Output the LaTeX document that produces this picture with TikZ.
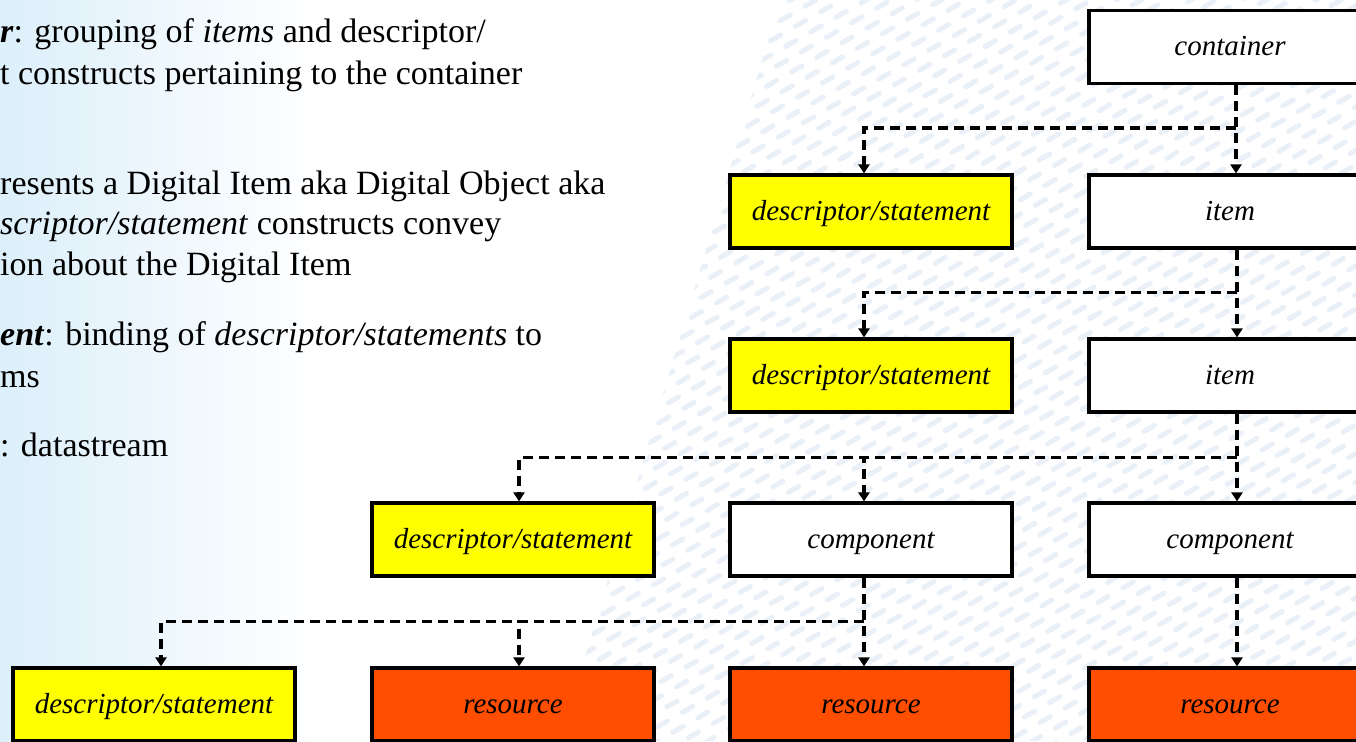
\documentclass[tikz,border=0pt]{standalone}
\usepackage{fontspec}
\setmainfont{Liberation Serif}
\usetikzlibrary{arrows.meta}
\definecolor{dsyellow}{RGB}{255,255,0}
\definecolor{resred}{RGB}{255,78,0}
\definecolor{bgblue}{RGB}{220,239,250}
\definecolor{streakc}{RGB}{234,240,247}
\begin{document}
\begin{tikzpicture}[x=1pt,y=-1pt,
  box/.style={draw=black, line width=3.2pt, minimum width=282pt, minimum height=73pt,
    inner sep=0pt, text height=23pt, text depth=5pt, font=\fontsize{29}{34}\selectfont\itshape},
  desc/.style={box, fill=dsyellow},
  plain/.style={box, fill=white},
  res/.style={box, fill=resred},
  conn/.style={line width=3.3pt, dash pattern=on 10pt off 6pt,
    -{Triangle[width=11pt,length=9pt]}},
  txt/.style={anchor=base west, inner sep=0pt, font=\fontsize{34}{40}\selectfont},
  streak/.style={line width=5pt, color=streakc, line cap=round}]
\useasboundingbox (0,0) rectangle (1356,741);
\clip (0,0) rectangle (1356,741);
% background
\fill[white] (0,0) rectangle (1356,741);
\shade[left color=bgblue, right color=white] (0,0) rectangle (320,741);
\begin{scope}
  \clip (560,741) -- (780,0) -- (1356,0) -- (1356,741) -- cycle;
  \foreach \i [evaluate=\i as \ph using {mod(\i*11,29)}] in {0,...,90} {
    \draw[streak, dash pattern=on 12pt off 17pt, dash phase=\ph pt] ({-700+\i*25}, 760) -- ++(1600,-924);
  }
\end{scope}
% left text
\node[txt] (t1) at (0,42.5) {\textbf{\textit{r}}: grouping of \textit{items} and descriptor/};
\node[txt] (t2) at (0,84.5) {t constructs pertaining to the container};
\node[txt] (t3) at (0,194.5) {resents a Digital Item aka Digital Object aka};
\node[txt] (t4) at (0,234.5) {\textit{scriptor/statement} constructs convey};
\node[txt] (t5) at (0,275.5) {ion about the Digital Item};
\node[txt] (t6) at (0,345.5) {\textbf{\textit{ent}}: binding of \textit{descriptor/statements} to};
\node[txt] (t7) at (0,387.5) {ms};
\node[txt] (t8) at (0,456.5) {: datastream};
% boxes
\node[plain] (c1)  at (1230,47)    {container};
\node[desc]  (d2)  at (871,211.5)  {descriptor/statement};
\node[plain] (i2)  at (1230,211.5) {item};
\node[desc]  (d3)  at (871,375.5)  {descriptor/statement};
\node[plain] (i3)  at (1230,375.5) {item};
\node[desc]  (d4)  at (513,539.5)  {descriptor/statement};
\node[plain] (k4)  at (871,539.5)  {component};
\node[plain] (m4)  at (1230,539.5) {component};
\node[desc]  (d5)  at (154,704.5)  {descriptor/statement};
\node[res]   (r5a) at (513,704.5)  {resource};
\node[res]   (r5b) at (871,704.5)  {resource};
\node[res]   (r5c) at (1230,704.5) {resource};
% connectors
\draw[conn] ([xshift=6pt]c1.south) -- ([xshift=6pt]i2.north);
\path ([xshift=6pt]c1.south) ++(0,43) coordinate (b1);
\draw[conn] (b1) -| ([xshift=-7pt]d2.north);
\draw[conn] ([xshift=7pt]i2.south) -- ([xshift=7pt]i3.north);
\path ([xshift=7pt]i2.south) ++(0,43) coordinate (b2);
\draw[conn] (b2) -| ([xshift=-7pt]d3.north);
\draw[conn] ([xshift=7pt]i3.south) -- ([xshift=7pt]m4.north);
\path ([xshift=7pt]i3.south) ++(0,44) coordinate (b3);
\draw[conn] (b3) -| ([xshift=6pt]d4.north);
\draw[conn] (b3) -| ([xshift=-7pt]k4.north);
\draw[conn] ([xshift=-7pt]k4.south) -- ([xshift=-7pt]r5b.north);
\path ([xshift=-7pt]k4.south) ++(0,44) coordinate (b4);
\draw[conn] (b4) -| ([xshift=7pt]d5.north);
\draw[conn] (b4) -| ([xshift=6pt]r5a.north);
\draw[conn] ([xshift=7pt]m4.south) -- ([xshift=7pt]r5c.north);
\end{tikzpicture}
\end{document}
